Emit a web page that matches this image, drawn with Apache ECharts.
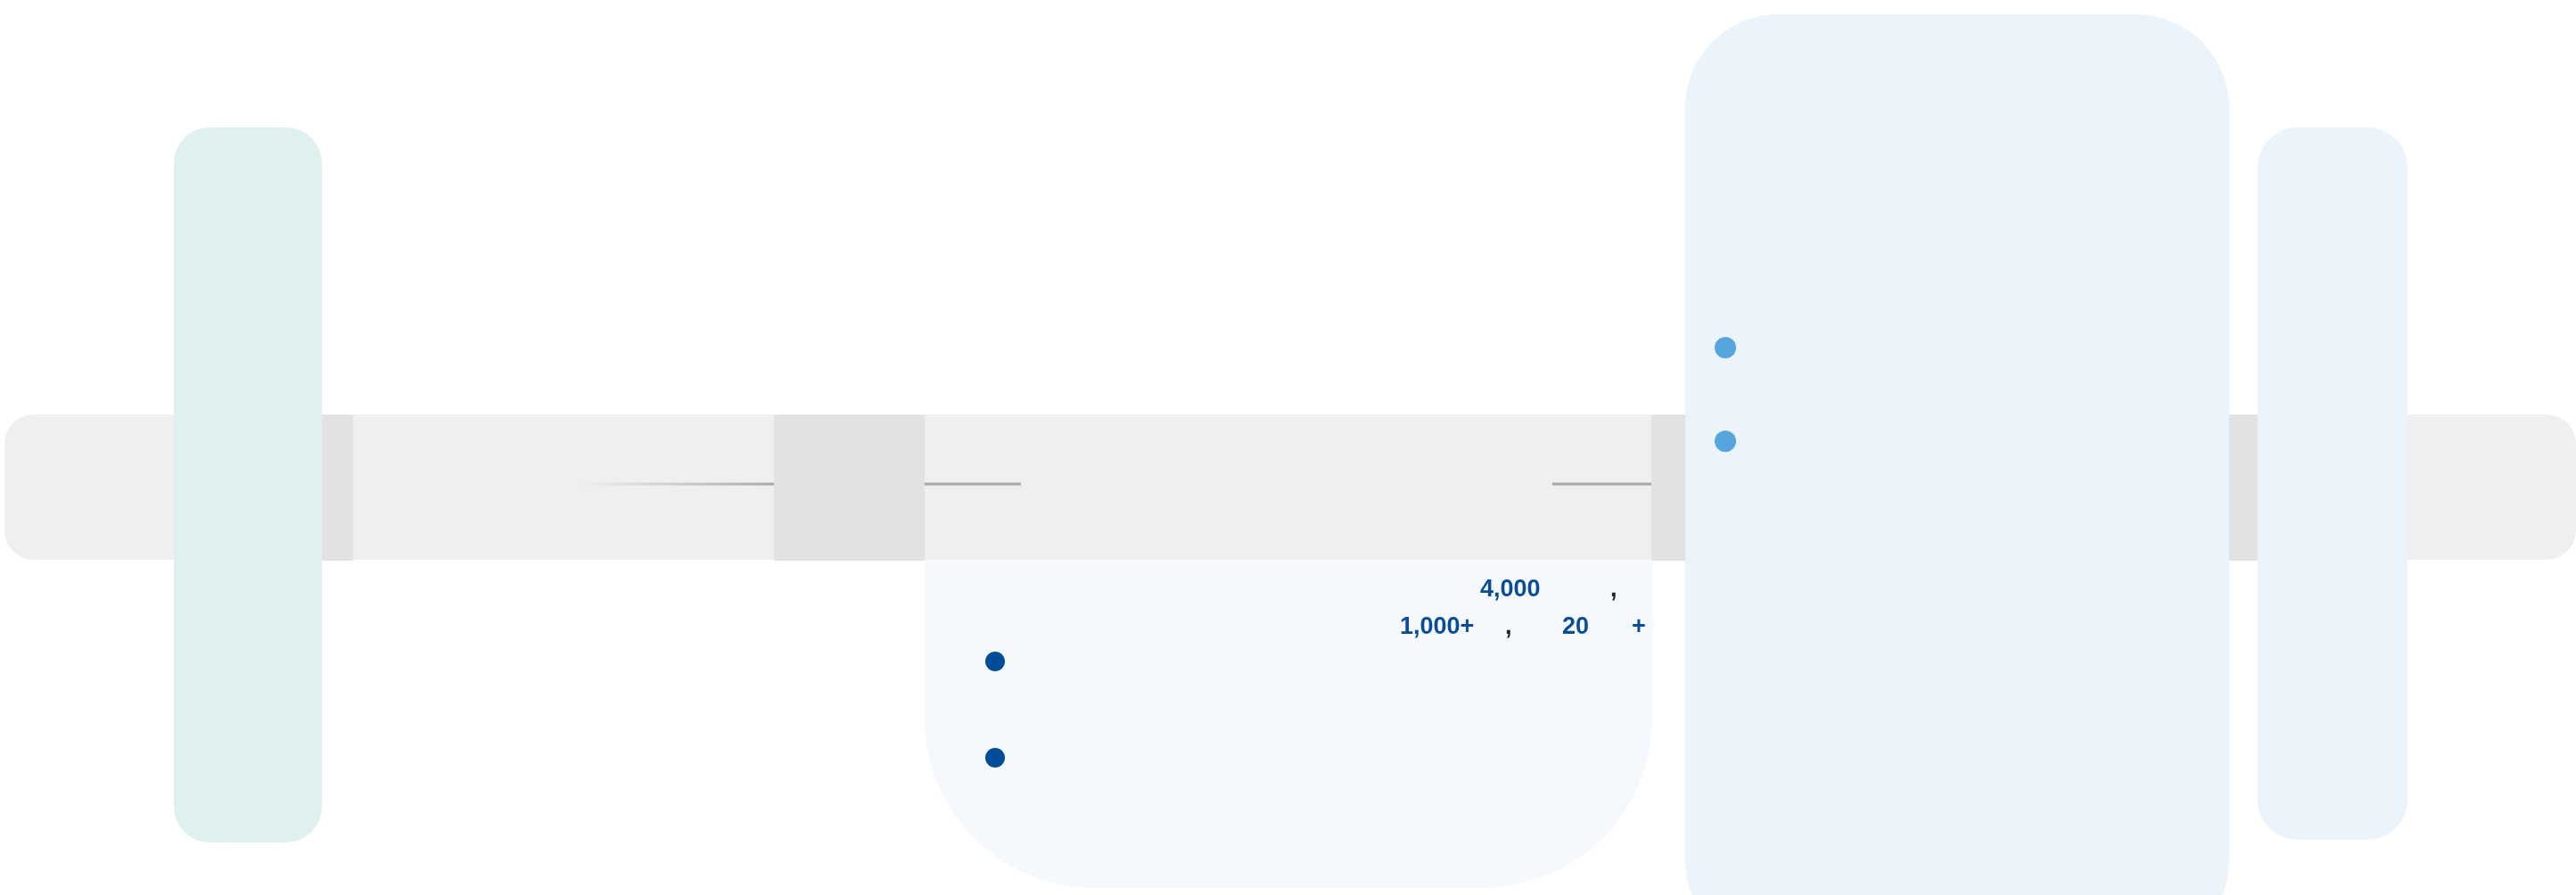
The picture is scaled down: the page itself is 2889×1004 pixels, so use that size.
<!DOCTYPE html>
<html>
<head>
<meta charset="utf-8">
<script src="https://cdn.jsdelivr.net/npm/echarts@6/dist/echarts.min.js"></script>
<style>html,body{margin:0;padding:0;background:#fff;}#c{width:2889px;height:1004px;}</style>
</head>
<body>
<div id="c"></div>
<script>
// shape extents in the chart's own coordinate units (x: 0..2889, y: 0..1004, y downward)
const shapeNames = ['axle','leftPlate','leftCollar','innerCollarL','innerCollarR','panelBottom','bigPanel','rightCollar','rightPlate'];
const shapeX0 = [5, 195, 361, 868, 1852, 1037, 1890, 2500, 2532];
const shapeX1 = [2889, 361, 396, 1037, 1890, 1853, 2500, 2532, 2700];
const shapeY0 = [465, 143, 465, 465, 465, 628, 16, 465, 143];
const shapeY1 = [628, 945, 629, 629, 629, 996, 1070, 629, 942];

const lineX0 = [650, 1037, 1741];
const lineX1 = [868, 1145, 1852];
const lineY = [543, 543, 543];

const darkDotX = [1116, 1116];
const darkDotY = [742, 850];
const lightDotX = [1935, 1935];
const lightDotY = [390, 495];

const labelText = ['4,000', ',', '1,000+', ',', '20', '+'];
const labelX = [1660, 1806, 1570, 1688, 1752, 1830];
const labelY = [662, 662, 704, 704, 704, 704];
const labelKind = ['num', 'sep', 'num', 'sep', 'num', 'num'];

const styleOf = {
  axle: {fill: '#efefef', r: [33, 33, 33, 33]},
  leftPlate: {fill: '#dff1ef', r: [40, 40, 40, 40]},
  leftCollar: {fill: '#e2e2e2', r: 0},
  innerCollarL: {fill: '#e2e2e2', r: 0},
  innerCollarR: {fill: '#e2e2e2', r: 0},
  panelBottom: {fill: '#f5f9fe', r: [0, 0, 190, 190]},
  bigPanel: {fill: '#ebf3fb', r: [105, 105, 105, 105]},
  rightCollar: {fill: '#e2e2e2', r: 0},
  rightPlate: {fill: '#ebf3fb', r: [45, 45, 45, 45]}
};

const chart = echarts.init(document.getElementById('c'), null, {renderer: 'canvas'});
const shapeData = shapeNames.map((n, i) => [shapeX0[i], shapeY0[i], shapeX1[i], shapeY1[i]]);
const lineData = lineX0.map((x, i) => [x, lineY[i], lineX1[i], lineY[i]]);
const labelData = labelText.map((t, i) => [labelX[i], labelY[i]]);

chart.setOption({
  animation: false,
  backgroundColor: '#ffffff',
  grid: {left: 0, right: 0, top: 0, bottom: 0},
  xAxis: {type: 'value', min: 0, max: 2889, show: false},
  yAxis: {type: 'value', min: 0, max: 1004, inverse: true, show: false},
  series: [
    {
      type: 'custom', z: 1, silent: true,
      data: shapeData,
      renderItem: function (params, api) {
        const p0 = api.coord([api.value(0), api.value(1)]);
        const p1 = api.coord([api.value(2), api.value(3)]);
        const st = styleOf[shapeNames[params.dataIndex]];
        return {
          type: 'rect',
          shape: {x: p0[0], y: p0[1], width: p1[0] - p0[0], height: p1[1] - p0[1], r: st.r},
          style: {fill: st.fill}
        };
      }
    },
    {
      type: 'custom', z: 2, silent: true,
      data: lineData,
      renderItem: function (params, api) {
        const p0 = api.coord([api.value(0), api.value(1)]);
        const p1 = api.coord([api.value(2), api.value(3)]);
        const stroke = params.dataIndex === 0
          ? new echarts.graphic.LinearGradient(0, 0, 1, 0, [{offset: 0, color: 'rgba(170,170,170,0)'}, {offset: 1, color: '#a8a8a8'}])
          : '#a8a8a8';
        return {
          type: 'line',
          shape: {x1: p0[0], y1: p0[1], x2: p1[0], y2: p1[1]},
          style: {stroke: stroke, lineWidth: 3}
        };
      }
    },
    {
      type: 'scatter', z: 3, silent: true,
      symbol: 'circle', symbolSize: 22,
      itemStyle: {color: '#004c97', opacity: 1},
      data: darkDotX.map((x, i) => [x, darkDotY[i]])
    },
    {
      type: 'scatter', z: 3, silent: true,
      symbol: 'circle', symbolSize: 24,
      itemStyle: {color: '#56a5dc', opacity: 1},
      data: lightDotX.map((x, i) => [x, lightDotY[i]])
    },
    {
      type: 'custom', z: 4, silent: true,
      data: labelData,
      renderItem: function (params, api) {
        const p = api.coord([api.value(0), api.value(1)]);
        const i = params.dataIndex;
        return {
          type: 'text',
          x: p[0], y: p[1],
          style: {
            text: labelText[i],
            fill: labelKind[i] === 'num' ? '#0b4d92' : '#222222',
            font: 'bold 27px "Liberation Sans", Arial, sans-serif',
            textAlign: 'left', textVerticalAlign: 'middle'
          }
        };
      }
    }
  ]
});
</script>
</body>
</html>
